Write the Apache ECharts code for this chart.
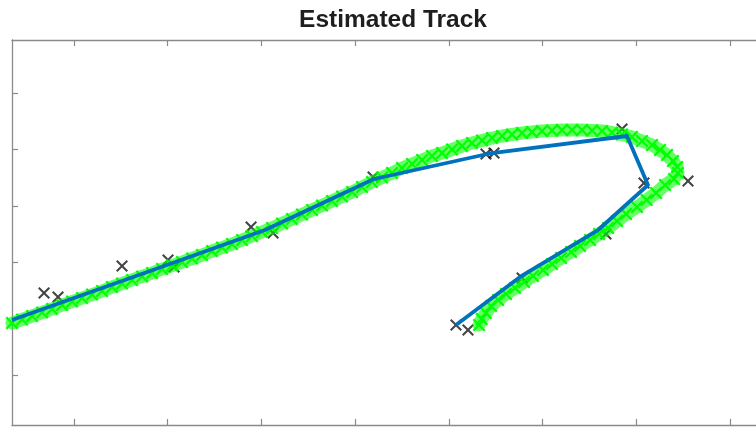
<!DOCTYPE html>
<html>
<head>
<meta charset="utf-8">
<script src="https://cdn.jsdelivr.net/npm/echarts@6/dist/echarts.min.js"></script>
<style>
html,body{margin:0;padding:0;background:#fff;}
#chart{width:756px;height:428px;}
</style>
</head>
<body>
<div id="chart"></div>
<script>
// ---- data ----
const chartTitle = 'Estimated Track';
const xTicks = [100, 200, 300, 400, 500, 600, 700, 800];
const yTicks = [100, 200, 300, 400, 500, 600];

// true track (green x markers)
const trueX = [33.8,44.5,55.2,65.9,76.5,87.2,97.9,108.5,119.2,129.9,140.5,151.2,161.9,172.6,183.2,193.9,204.6,215.2,225.9,236.6,247.3,257.9,268.6,279.3,289.9,300.6,
  311.3,322.0,332.6,343.3,354.0,364.6,375.3,386.0,396.7,407.3,418.0,428.7,439.3,450.0,460.7,471.4,482.0,492.7,503.4,514.0,524.7,535.4,546.0,556.7,567.4,578.1,588.7,599.4,610.1,620.7,631.4,642.1,652.8,663.4,674.1,684.8,695.4,706.1,716.8,725.3,732.8,739.2,743.5,744.5,740.3,
  730.7,721.1,711.0,700.8,689.1,679.5,669.9,660.3,650.7,640.0,630.4,619.7,610.1,600.5,589.8,580.2,570.6,561.0,552.5,545.0,539.5,535.0,532.2];
const trueY = [193.2,199.4,205.6,211.8,218.0,225.0,231.2,237.4,243.6,249.8,256.9,263.1,269.3,275.5,281.6,288.7,294.9,301.1,307.3,313.5,320.6,326.7,332.9,340.0,347.1,354.2,
  361.2,369.2,377.1,385.1,393.1,401.0,409.0,416.9,424.9,433.8,442.6,450.6,458.5,467.4,474.4,481.5,488.6,493.9,500.1,506.3,511.6,516.0,520.4,524.0,526.6,529.3,531.0,532.8,533.7,534.6,534.6,534.6,533.7,532.8,530.1,526.6,522.2,515.1,508.0,499.2,490.3,479.7,469.1,458.5,447.9,
  437.3,423.1,410.8,398.4,386.0,373.6,361.2,350.6,340.0,329.4,318.8,308.2,297.6,287.0,276.3,265.7,255.1,244.5,233.9,223.3,210.9,200.3,189.7];

// measurements (black x markers)
const measX = [68.0,82.9,151.2,200.3,206.7,288.9,312.4,419.1,539.6,548.2,684.8,708.2,755.2,667.7,578.1,507.6,520.4];
const measY = [246.3,239.2,294.0,304.6,292.3,363.0,352.4,451.4,492.1,493.9,536.3,440.8,444.4,350.6,272.8,189.7,180.8];

// estimated track (blue line)
const estX = [33.8,199.2,303.8,420.1,546.0,690.1,712.5,659.2,575.9,507.6];
const estY = [198.5,295.8,357.7,447.9,493.9,524.0,437.3,357.7,274.6,189.7];

// ---- chart ----
const pairs = (xs, ys) => xs.map((x, i) => [x, ys[i]]);
const xMark = 'path://M0,0.12L0.12,0L0.5,0.38L0.88,0L1,0.12L0.62,0.5L1,0.88L0.88,1L0.5,0.62L0.12,1L0,0.88L0.38,0.5Z';
const axisCol = '#8a8a8a';

const xAxisBase = {
  type: 'value', min: 33.8, max: 836.3,
  axisLine: {show: true, onZero: false, lineStyle: {color: axisCol, width: 1.3}},
  axisTick: {show: true, inside: true, length: 6, customValues: xTicks, lineStyle: {color: axisCol, width: 1.2}},
  axisLabel: {show: false}, splitLine: {show: false}
};

const chart = echarts.init(document.getElementById('chart'), null, {renderer: 'canvas'});
chart.setOption({
  animation: false,
  backgroundColor: '#fff',
  title: {
    text: chartTitle, left: 388, top: 3, textAlign: 'center',
    textStyle: {fontFamily: 'Liberation Sans, Arial, sans-serif', fontWeight: 'bold', fontSize: 24.5, color: '#1e1e1e', lineHeight: 25}
  },
  grid: {left: 12, right: -8, top: 40, bottom: 3, containLabel: false, outerBoundsMode: 'none'},
  xAxis: [
    Object.assign({}, xAxisBase, {position: 'bottom'}),
    Object.assign({}, xAxisBase, {position: 'top'})
  ],
  yAxis: [{
    type: 'value', min: 12.8, max: 693.8, position: 'left',
    axisLine: {show: true, onZero: false, lineStyle: {color: axisCol, width: 1.3}},
    axisTick: {show: true, inside: true, length: 6, customValues: yTicks, lineStyle: {color: axisCol, width: 1.2}},
    axisLabel: {show: false}, splitLine: {show: false}
  }],
  series: [
    {
      name: 'Measurements', type: 'scatter', data: pairs(measX, measY),
      symbol: xMark, symbolSize: 12, itemStyle: {color: '#151515'}, z: 2
    },
    {
      name: 'True track', type: 'line', data: pairs(trueX, trueY),
      symbol: xMark, symbolSize: 13, showSymbol: true,
      itemStyle: {color: '#00ff00'},
      lineStyle: {color: 'rgba(0,255,0,0.6)', width: 13, cap: 'round', join: 'round'},
      z: 3
    },
    {
      name: 'Estimate', type: 'line', data: pairs(estX, estY),
      showSymbol: false, symbol: 'none',
      lineStyle: {color: '#0072bd', width: 3.8, join: 'round'},
      z: 4
    }
  ]
});
</script>
</body>
</html>
